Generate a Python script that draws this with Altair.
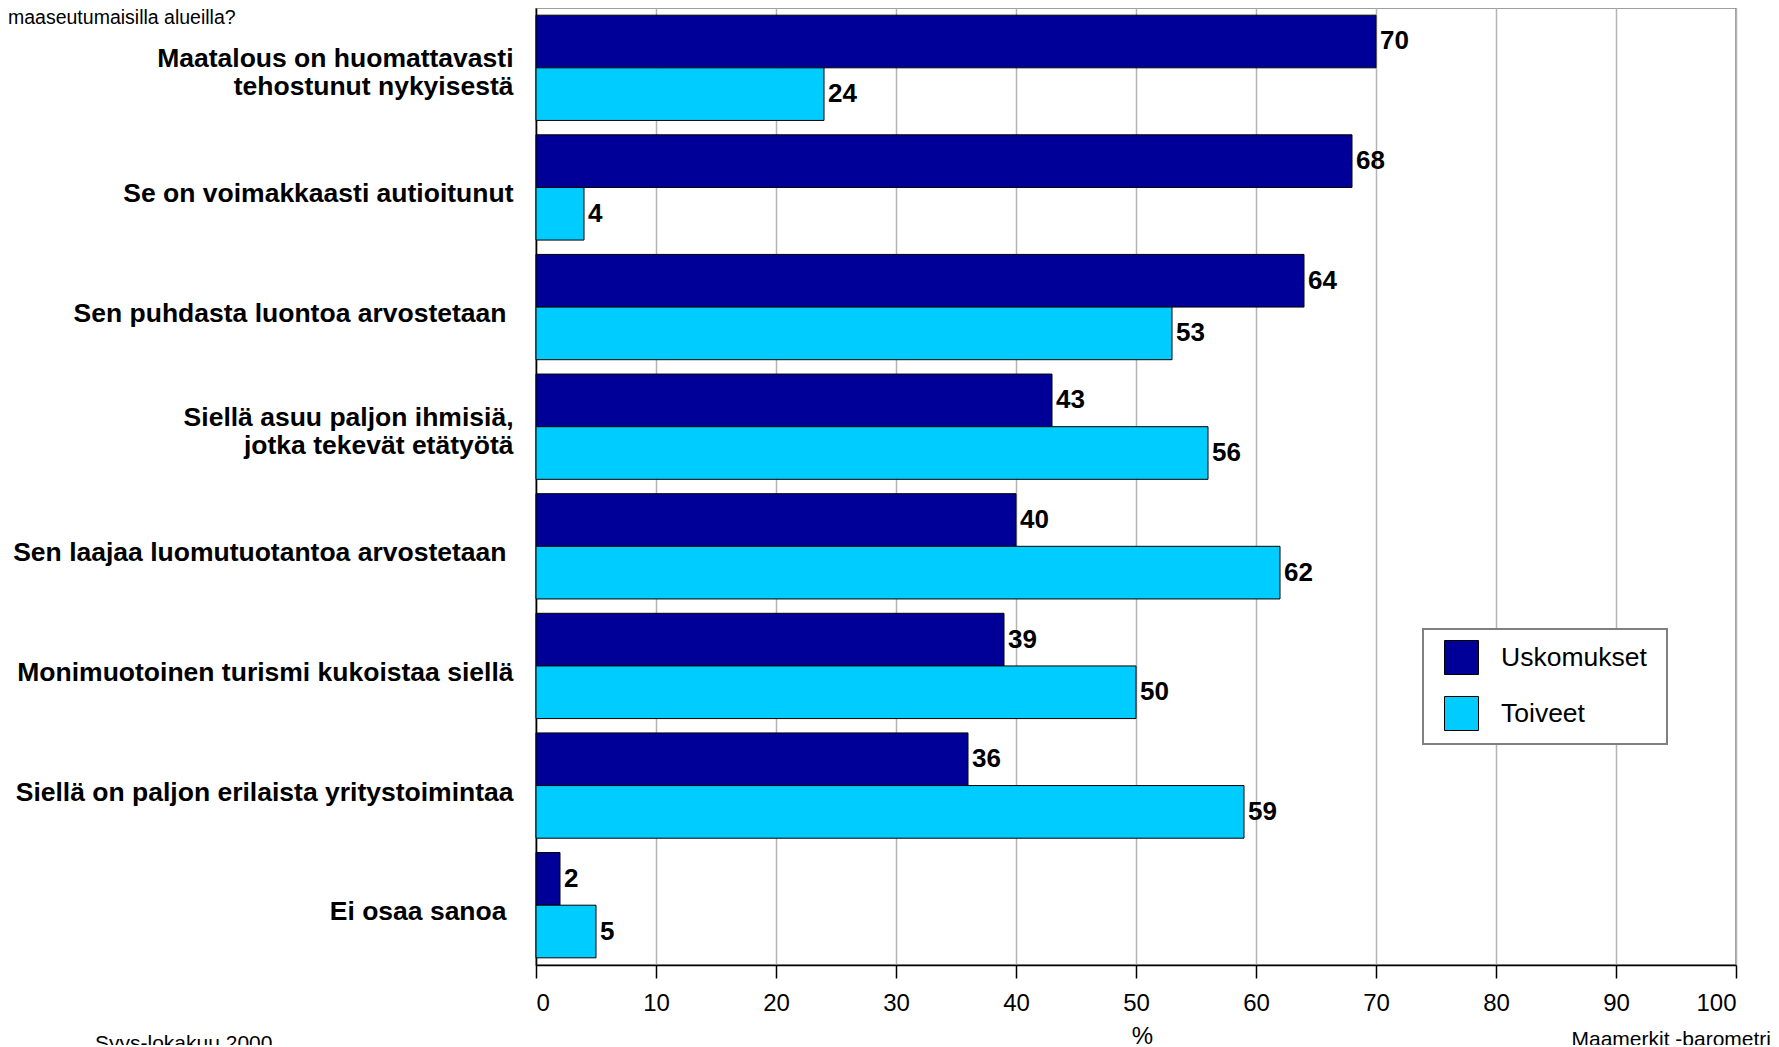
import altair as alt
import pandas as pd

categories = [
    "Maatalous on huomattavasti|tehostunut nykyisestä",
    "Se on voimakkaasti autioitunut",
    "Sen puhdasta luontoa arvostetaan ",
    "Siellä asuu paljon ihmisiä,|jotka tekevät etätyötä",
    "Sen laajaa luomutuotantoa arvostetaan ",
    "Monimuotoinen turismi kukoistaa siellä",
    "Siellä on paljon erilaista yritystoimintaa",
    "Ei osaa sanoa ",
]
series = ["Uskomukset", "Toiveet"]
uskomukset = [70, 68, 64, 43, 40, 39, 36, 2]
toiveet = [24, 4, 53, 56, 62, 50, 59, 5]
colors = ["#000099", "#00CCFF"]
x_ticks = list(range(0, 101, 10))

rows = []
for c, u, t in zip(categories, uskomukset, toiveet):
    rows.append({"kysymys": c, "sarja": series[0], "arvo": u})
    rows.append({"kysymys": c, "sarja": series[1], "arvo": t})
df = pd.DataFrame(rows)

FONT = "Liberation Sans"

y_enc = alt.Y(
    "kysymys:N",
    sort=categories,
    scale=alt.Scale(paddingInner=0.12, paddingOuter=0.06),
    axis=alt.Axis(
        title=None,
        labelExpr="split(datum.label, '|')",
        labelFont=FONT,
        labelFontSize=26.5,
        labelFontWeight="bold",
        labelColor="black",
        labelPadding={"condition": {"test": "test(regexp(' $'), datum.value)", "value": 30}, "value": 23},
        labelLineHeight=28,
        labelOffset={"condition": {"test": "indexof(datum.value, '|') >= 0", "value": -9}, "value": 7},
        labelLimit=700,
        ticks=False,
        domainColor="black",
        domainWidth=1.5,
        grid=False,
    ),
)
y_off = alt.YOffset("sarja:N", sort=series, scale=alt.Scale(paddingInner=0, paddingOuter=0))
x_enc = alt.X(
    "arvo:Q",
    scale=alt.Scale(domain=[0, 100], nice=False),
    axis=alt.Axis(
        values=x_ticks,
        title="%",
        titleFont=FONT,
        titleFontSize=24,
        titleFontWeight="normal",
        titleColor="black",
        titleX=606,
        titleY=78,
        titleBaseline="alphabetic",
        titleAlign="center",
        labelFont=FONT,
        labelFontSize=24,
        labelColor="black",
        labelPadding=13,
        tickColor="black",
        tickSize=13,
        tickWidth=1.5,
        domainColor="black",
        domainWidth=1.5,
        grid=True,
        gridColor="#b4b4b4",
        gridWidth=1.5,
    ),
)

bars = alt.Chart(df).mark_bar(stroke="black", strokeWidth=1).encode(
    x=x_enc,
    y=y_enc,
    yOffset=y_off,
    color=alt.Color(
        "sarja:N",
        sort=series,
        scale=alt.Scale(domain=series, range=colors),
        legend=alt.Legend(
            title=".",
            titleOrient="right",
            titleFontSize=10,
            titlePadding=6,
            titleOpacity=0,
            orient="none",
            legendX=887,
            legendY=621,
            symbolType="square",
            symbolSize=1156,
            symbolStrokeColor="black",
            symbolStrokeWidth=1,
            symbolOffset=10,
            labelFont=FONT,
            labelFontSize=26.5,
            labelColor="black",
            labelOffset=22,
            rowPadding=17,
            padding=11,
            strokeColor="#808080",
            fillColor="white",
        ),
    ),
)

values = alt.Chart(df).mark_text(
    align="left", baseline="middle", dx=4, font=FONT, fontSize=26, fontWeight="bold", color="black"
).encode(x="arvo:Q", y=alt.Y("kysymys:N", sort=categories), yOffset=alt.YOffset("sarja:N", sort=series), text="arvo:Q")

one = pd.DataFrame({"a": [0]})
t_top = alt.Chart(one).mark_text(
    text="maaseutumaisilla alueilla?", align="left", baseline="alphabetic", font=FONT, fontSize=19.5, color="black"
).encode(x=alt.value(-528), y=alt.value(15.5))
t_left = alt.Chart(one).mark_text(
    text="Syys-lokakuu 2000", align="left", baseline="alphabetic", font=FONT, fontSize=21, color="black"
).encode(x=alt.value(-441), y=alt.value(1042))
t_right = alt.Chart(one).mark_text(
    text="Maamerkit -barometri", align="right", baseline="alphabetic", font=FONT, fontSize=21, color="black"
).encode(x=alt.value(1235), y=alt.value(1038))

chart = alt.layer(bars, values, t_top, t_left, t_right).properties(
    width=1200,
    height=957,
    autosize=alt.AutoSizeParams(type="none"),
    padding={"left": 528, "top": 0, "right": 35, "bottom": 80},
).configure_view(stroke="#808080", strokeWidth=1.5).configure_legend(strokeWidth=2)

chart.save("out.html", embed_options={"renderer": "svg", "actions": False})
